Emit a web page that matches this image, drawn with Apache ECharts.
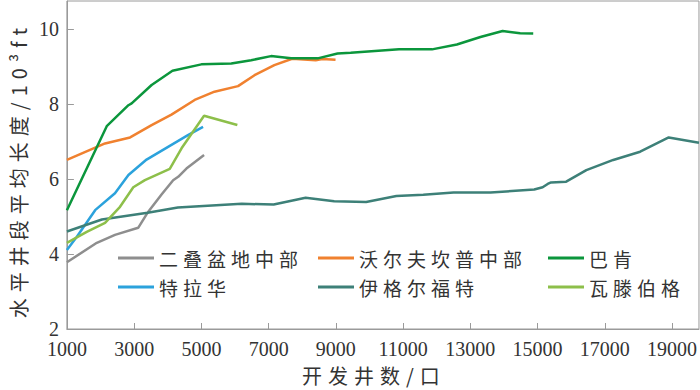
<!DOCTYPE html>
<html>
<head>
<meta charset="utf-8">
<script src="https://cdn.jsdelivr.net/npm/echarts@6.0.0/dist/echarts.min.js"></script>
<style>
  html, body { margin: 0; padding: 0; background: #fff; }
  #chart { width: 700px; height: 390px; }
  #chart text[style*="CJK"] { letter-spacing: 5px; }
  #chart text[style*="CJK"][style*="20px"] { letter-spacing: 6px; }
</style>
</head>
<body>
<div id="chart"></div>
<script>
// 横轴：开发井数；纵轴：水平井段平均长度（10^3 ft）
const xTicks = [1000, 3000, 5000, 7000, 9000, 11000, 13000, 15000, 17000, 19000]
const yTicks = [2, 4, 6, 8, 10]

const seriesNames = ['二叠盆地中部', '沃尔夫坎普中部', '巴肯', '特拉华', '伊格尔福特', '瓦滕伯格']
const seriesColors = ['#8e8e8e', '#f0812f', '#0b963c', '#2ba2dc', '#3d8078', '#8dbf4a']

const permianCentral = [
  [1000, 3.78], [1890, 4.30], [2430, 4.51], [3120, 4.70], [3420, 5.13],
  [3815, 5.59], [4160, 5.97], [4310, 6.06], [4555, 6.28], [5080, 6.64]
]
const wolfcampCentral = [
  [1000, 6.51], [2135, 6.95], [2880, 7.11], [3520, 7.44], [4110, 7.72],
  [4800, 8.11], [5390, 8.33], [6090, 8.48], [6580, 8.77], [7170, 9.04],
  [7700, 9.21], [8400, 9.17], [8600, 9.20], [8990, 9.18]
]
const bakken = [
  [1000, 5.17], [2185, 7.41], [2830, 7.97], [2926, 8.02], [3520, 8.51],
  [4140, 8.89], [5000, 9.06], [5890, 9.08], [6480, 9.17], [7070, 9.28],
  [7670, 9.22], [8460, 9.22], [9050, 9.35], [9440, 9.37], [10880, 9.46],
  [11860, 9.46], [12600, 9.59], [13300, 9.79], [13960, 9.95], [14480, 9.89],
  [14870, 9.88]
]
const delaware = [
  [1000, 4.11], [1296, 4.46], [1840, 5.17], [2430, 5.62], [2830, 6.11],
  [3370, 6.52], [4010, 6.86], [4600, 7.17], [5050, 7.39]
]
const eagleFord = [
  [1000, 4.60], [2040, 4.92], [3400, 5.10], [4300, 5.24], [6200, 5.34],
  [7150, 5.32], [8100, 5.50], [8950, 5.41], [9900, 5.39], [10800, 5.55],
  [11600, 5.58], [12500, 5.64], [13600, 5.64], [14900, 5.72], [15150, 5.78],
  [15300, 5.87], [15400, 5.91], [15850, 5.93], [16450, 6.24], [17250, 6.51],
  [18050, 6.73], [18900, 7.11], [19800, 6.97]
]
const wattenberg = [
  [1000, 4.30], [1590, 4.59], [2135, 4.83], [2580, 5.26], [2975, 5.78],
  [3320, 5.97], [4060, 6.27], [4410, 6.82], [5080, 7.69], [6070, 7.44]
]

const seriesData = [permianCentral, wolfcampCentral, bakken, delaware, eagleFord, wattenberg]

const cjkFont = '"Noto Sans CJK SC", sans-serif'
const numFont = '"Liberation Serif", serif'

function makeLegend(left, names) {
  return {
    orient: 'vertical',
    left: left,
    top: 248,
    padding: 0,
    itemGap: 9,
    itemWidth: 36,
    itemHeight: 3,
    icon: 'rect',
    selectedMode: false,
    textStyle: {
      color: '#333',
      fontFamily: cjkFont,
      fontSize: 19,
      lineHeight: 20
    },
    data: names
  }
}

const chart = echarts.init(document.getElementById('chart'), null, { renderer: 'svg' })

chart.setOption({
  animation: false,
  backgroundColor: '#fff',
  grid: {
    left: 65,
    right: 1,
    top: 1,
    bottom: 59,
    show: true,
    borderColor: '#9a9a9a',
    borderWidth: 1
  },
  legend: [
    makeLegend(118, [seriesNames[0], seriesNames[3]]),
    makeLegend(318, [seriesNames[1], seriesNames[4]]),
    makeLegend(548, [seriesNames[2], seriesNames[5]])
  ],
  xAxis: {
    type: 'value',
    min: 1000,
    max: 19800,
    interval: 2000,
    name: '开发井数/口',
    nameLocation: 'middle',
    nameGap: 36,
    nameTextStyle: {
      color: '#333',
      fontFamily: cjkFont,
      fontSize: 20,
      padding: [0, 18, 0, 0]
    },
    axisLine: { lineStyle: { color: '#9a9a9a', width: 1 } },
    axisTick: {
      inside: true,
      length: 6,
      customValues: xTicks,
      lineStyle: { color: '#9a9a9a' }
    },
    axisLabel: {
      customValues: xTicks,
      formatter: value => String(value),
      color: '#333',
      fontFamily: numFont,
      fontSize: 20,
      lineHeight: 18,
      margin: 11
    },
    splitLine: { show: false }
  },
  yAxis: {
    type: 'value',
    min: 2,
    max: 10.75,
    interval: 2,
    name: '水平井段平均长度/10³ft',
    nameLocation: 'middle',
    nameGap: 37,
    nameTextStyle: {
      color: '#333',
      fontFamily: cjkFont,
      fontSize: 20,
      padding: [0, 10, 0, 0]
    },
    axisLine: { show: true, lineStyle: { color: '#9a9a9a', width: 1 } },
    axisTick: {
      show: true,
      inside: true,
      length: 7,
      customValues: yTicks,
      lineStyle: { color: '#9a9a9a' }
    },
    axisLabel: {
      customValues: yTicks,
      color: '#333',
      fontFamily: numFont,
      fontSize: 20,
      lineHeight: 16,
      padding: [0, 0, 3, 0],
      margin: 8
    },
    splitLine: { show: false }
  },
  series: seriesNames.map((name, i) => ({
    name: name,
    type: 'line',
    data: seriesData[i],
    color: seriesColors[i],
    showSymbol: false,
    symbol: 'none',
    smooth: false,
    lineStyle: { width: 2.5, color: seriesColors[i] },
    emphasis: { disabled: true }
  }))
})
</script>
</body>
</html>
